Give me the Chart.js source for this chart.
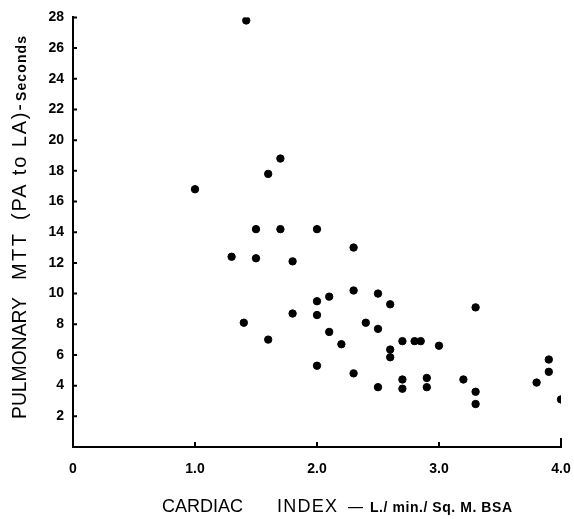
<!DOCTYPE html>
<html lang="en">
<head>
  <meta charset="UTF-8">
  <title>Pulmonary MTT vs Cardiac Index</title>
  <script src="https://cdn.jsdelivr.net/npm/chart.js"></script>
  <style>
    body {
      margin: 0;
      background: #ffffff;
    }
    .wrap {
      width: 574px;
      height: 519px;
    }
  </style>
</head>
<body>
  <div class="wrap">
    <canvas id="mttChart" width="574" height="519"></canvas>
  </div>

  <script>
    // values
    const cardiacIndex = [
      1.0, 1.3, 1.42, 1.4, 1.5, 1.5, 1.6, 1.6, 1.7, 1.7, 1.8, 1.8,
      2.0, 2.0, 2.0, 2.0, 2.1, 2.1, 2.2, 2.3, 2.3, 2.3, 2.4, 2.5, 2.5, 2.5,
      2.6, 2.6, 2.6, 2.7, 2.7, 2.7, 2.8, 2.85, 2.9, 2.9, 3.0, 3.2,
      3.3, 3.3, 3.3, 3.8, 3.9, 3.9, 4.0
    ];
    const mttSeconds = [
      16.8, 12.4, 27.8, 8.1, 14.2, 12.3, 17.8, 7.0, 18.8, 14.2, 12.1, 8.7,
      14.2, 9.5, 8.6, 5.3, 9.8, 7.5, 6.7, 13.0, 10.2, 4.8, 8.1, 10.0, 7.7, 3.9,
      9.3, 6.35, 5.85, 6.9, 4.4, 3.8, 6.9, 6.9, 4.5, 3.9, 6.6, 4.4,
      9.1, 3.6, 2.8, 4.2, 5.7, 4.9, 3.1
    ];
    const xTicks = [0, 1, 2, 3, 4];
    const xTickLabels = ['0', '1.0', '2.0', '3.0', '4.0'];
    const yTicks = [2, 4, 6, 8, 10, 12, 14, 16, 18, 20, 22, 24, 26, 28];

    const points = cardiacIndex.map((x, i) => ({ x: x, y: mttSeconds[i] }));

    // short tick marks pointing into the plot, like the original
    const innerTicks = {
      id: 'innerTicks',
      afterDraw(chart) {
        const ctx = chart.ctx;
        const xs = chart.scales.x;
        const ys = chart.scales.y;
        const a = chart.chartArea;
        ctx.save();
        ctx.strokeStyle = '#000';
        ctx.lineWidth = 2;
        ctx.beginPath();
        yTicks.forEach(v => {
          const py = ys.getPixelForValue(v);
          ctx.moveTo(a.left - 1, py);
          ctx.lineTo(a.left + 4, py);
        });
        xTicks.slice(1).forEach(v => {
          const px = xs.getPixelForValue(v);
          ctx.moveTo(px, a.bottom);
          ctx.lineTo(px, a.bottom - (v === 4 ? 9 : 5));
        });
        ctx.stroke();
        ctx.restore();
      }
    };

    // spread (or squeeze) a piece of text between two positions
    function fitText(ctx, text, font, x0, x1) {
      ctx.font = font;
      ctx.letterSpacing = '0px';
      const w = ctx.measureText(text).width;
      const extra = (x1 - x0 - w) / Math.max(text.length - 1, 1);
      ctx.save();
      ctx.translate(x0, 0);
      if (extra >= 0) {
        ctx.letterSpacing = extra + 'px';
      } else {
        ctx.scale((x1 - x0) / w, 1);
      }
      ctx.fillText(text, 0, 0);
      ctx.restore();
      ctx.letterSpacing = '0px';
    }

    // axis titles with mixed type sizes
    const axisTitles = {
      id: 'axisTitles',
      afterDraw(chart) {
        const ctx = chart.ctx;
        ctx.save();
        ctx.fillStyle = '#000';
        ctx.textBaseline = 'alphabetic';
        ctx.textAlign = 'left';

        // x title
        ctx.save();
        ctx.translate(0, 512);
        fitText(ctx, 'CARDIAC', '18px "Liberation Sans"', 162, 243);
        fitText(ctx, 'INDEX', '18px "Liberation Sans"', 277, 337);
        fitText(ctx, '—', '18px "Liberation Sans"', 348, 363);
        fitText(ctx, 'L./ min./ Sq. M. BSA', 'bold 14px "Liberation Sans"', 370, 512);
        ctx.restore();

        // y title, reading bottom to top
        ctx.save();
        ctx.translate(26, 419);
        ctx.rotate(-Math.PI / 2);
        fitText(ctx, 'PULMONARY', '20px "Liberation Sans"', 0, 122);
        fitText(ctx, 'MTT', '20px "Liberation Sans"', 139, 185);
        fitText(ctx, '(PA to LA)-', '20px "Liberation Sans"', 199, 315);
        fitText(ctx, 'Seconds', 'bold 14px "Liberation Sans"', 318, 383);
        ctx.restore();

        ctx.restore();
      }
    };

    new Chart(document.getElementById('mttChart'), {
      type: 'scatter',
      data: {
        datasets: [{
          label: 'MTT',
          data: points,
          backgroundColor: '#000',
          borderColor: '#000',
          pointRadius: 3.7,
          pointHoverRadius: 3.7
        }]
      },
      options: {
        responsive: false,
        animation: false,
        layout: { padding: { top: 15, right: 13, left: 0, bottom: 0 } },
        plugins: {
          legend: { display: false },
          tooltip: { enabled: false }
        },
        scales: {
          x: {
            type: 'linear',
            min: 0,
            max: 4,
            afterFit: s => {
              s.height = 72;
              s.paddingLeft = 0;
              s.paddingRight = 0;
            },
            afterBuildTicks: s => { s.ticks = xTicks.map(v => ({ value: v })); },
            grid: { display: false, drawTicks: false },
            border: { color: '#000', width: 2 },
            ticks: {
              padding: 14,
              color: '#000',
              font: { family: '"Liberation Sans"', size: 14, weight: 'bold' },
              callback: (v) => xTickLabels[xTicks.indexOf(v)]
            }
          },
          y: {
            type: 'linear',
            min: 0,
            max: 28,
            afterFit: s => { s.width = 73; },
            afterBuildTicks: s => { s.ticks = yTicks.map(v => ({ value: v })); },
            grid: { display: false, drawTicks: false },
            border: { color: '#000', width: 2 },
            ticks: {
              padding: 9,
              color: '#000',
              font: { family: '"Liberation Sans"', size: 14, weight: 'bold' }
            }
          }
        }
      },
      plugins: [innerTicks, axisTitles]
    });
  </script>
</body>
</html>
